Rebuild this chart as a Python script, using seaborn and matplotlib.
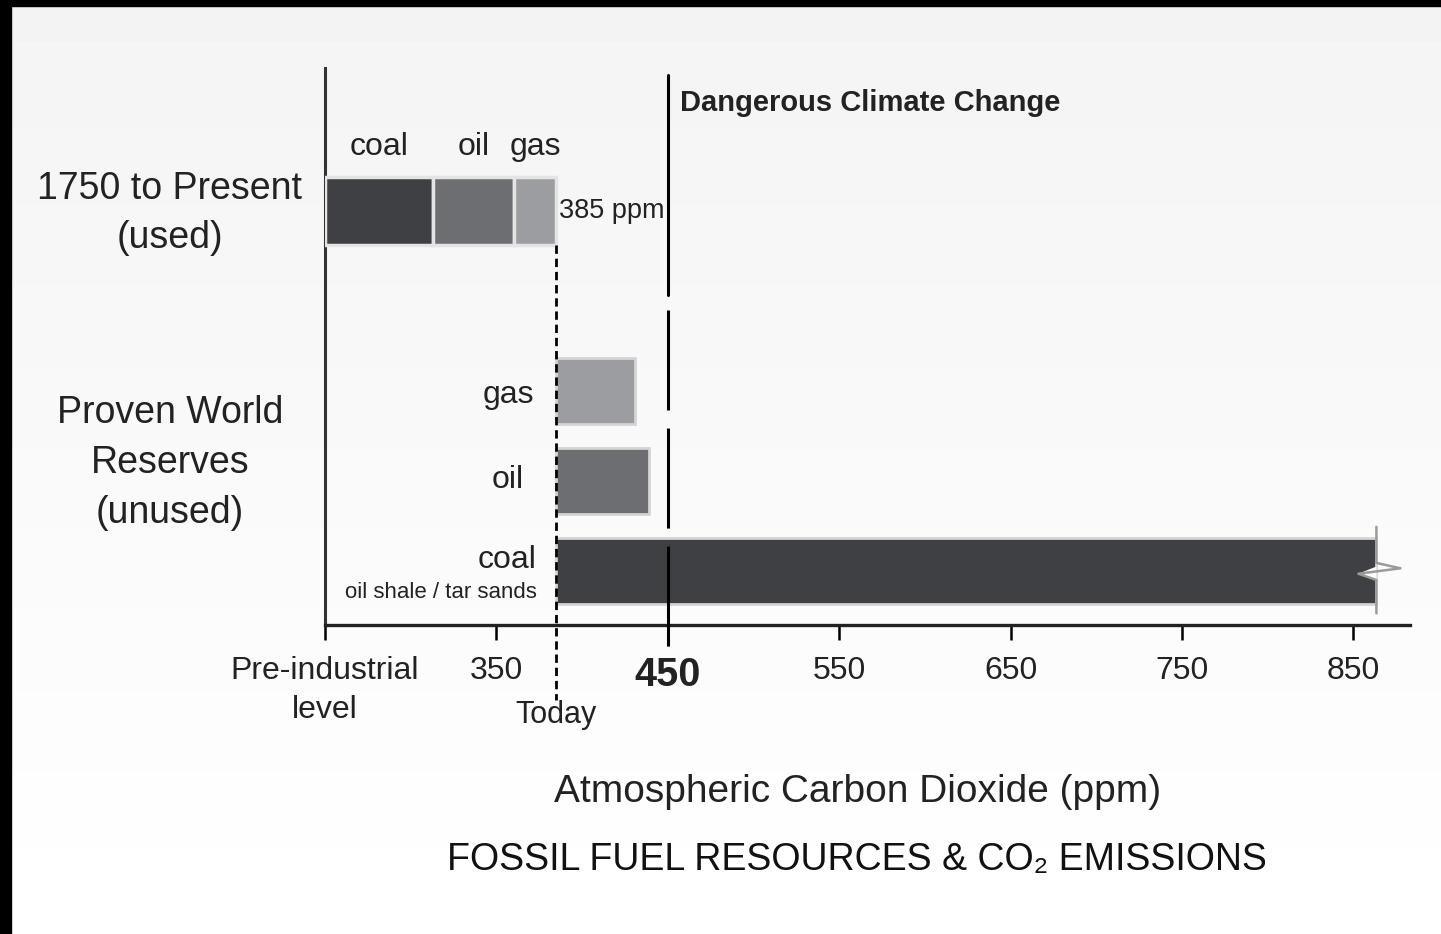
import numpy as np
import matplotlib
matplotlib.use("Agg")
import matplotlib.pyplot as plt
from matplotlib.patches import Rectangle, Polygon
import seaborn as sns

# Data (ppm on the chart's axis; pre-industrial sits at the left edge)
preindustrial = 250
today = 385
danger = 450

used_fuels = ["coal", "oil", "gas"]
used_end = [313, 360, 385]

reserve_fuels = ["gas", "oil", "coal"]
reserve_end = [431, 439, 863]

tick_values = [250, 350, 450, 550, 650, 750, 850]
tick_labels = ["Pre-industrial\nlevel", "350", "450", "550", "650", "750", "850"]

fuel_colors = {"coal": "#3f4043", "oil": "#6d6e71", "gas": "#9c9da0"}

sns.set_theme(style="white")
plt.rcParams["font.family"] = ["Liberation Sans", "DejaVu Sans"]
plt.rcParams["lines.scale_dashes"] = False

fig = plt.figure(figsize=(14.41, 9.34), dpi=100)
fig.patch.set_facecolor("white")

# soft grey-to-white background
bg = fig.add_axes([0, 0, 1, 1], zorder=-10)
grad = np.linspace(0.955, 1.0, 200).reshape(-1, 1)
bg.imshow(grad, aspect="auto", cmap="gray", vmin=0, vmax=1, extent=[0, 1, 0, 1])
bg.axis("off")

# black frame on the left and top edges
fig.patches.append(Rectangle((0, 0), 11 / 1441, 1, transform=fig.transFigure, color="black", zorder=20))
fig.patches.append(Rectangle((0, 1 - 6 / 934), 1, 6 / 934, transform=fig.transFigure, color="black", zorder=20))

ax = fig.add_axes([325 / 1441, 1 - 625 / 934, 1085 / 1441, 557 / 934])
ax.set_facecolor("none")

# used row (stacked)
lefts = [preindustrial] + used_end[:-1]
for fuel, left, end in zip(used_fuels, lefts, used_end):
    ax.barh(0, end - left, left=left, height=0.75, color=fuel_colors[fuel],
            edgecolor="#e4e4e4", linewidth=2.5, zorder=3)
    ax.text((left + end) / 2, -0.71, fuel, ha="center", va="center", fontsize=23, color="#222")

# reserves rows
res_pos = [2, 3, 4]
for fuel, pos, end in zip(reserve_fuels, res_pos, reserve_end):
    ax.barh(pos, end - today, left=today, height=0.74, color=fuel_colors[fuel],
            edgecolor="#d4d4d4", linewidth=2, zorder=3)

ax.text(372, 2.04, "gas", ha="right", va="center", fontsize=23, color="#222")
ax.text(366, 2.99, "oil", ha="right", va="center", fontsize=23, color="#222")
ax.text(373.5, 3.88, "coal", ha="right", va="center", fontsize=23, color="#222")
ax.text(373.5, 4.24, "oil shale / tar sands", ha="right", va="center", fontsize=16, color="#222")

# break mark at the end of the coal bar
notch = Polygon([(863.4, 3.95), (852.9, 4.03), (863.4, 4.1)], closed=True,
                facecolor="white", edgecolor="none", zorder=5)
ax.add_patch(notch)
ax.plot([863.4, 863.4, 877.4, 852.9, 863.4, 863.4], [3.51, 3.91, 3.97, 4.03, 4.1, 4.47],
        color="#9a9a9a", lw=1.8, zorder=6, clip_on=False)

# today (dashed) and dangerous threshold lines
ax.plot([today, today], [0.38, 5.43], color="black", lw=2.0, ls=(0, (6, 3.5)),
        zorder=4, clip_on=False)
ax.plot([danger, danger], [-1.51, 0.93], color="black", lw=2.2, zorder=4, clip_on=False)
ax.plot([danger, danger], [1.1, 4.88], color="black", lw=2.2, ls=(0, (72, 13)),
        zorder=4, clip_on=False)

ax.text(457, -1.2, "Dangerous Climate Change", ha="left", va="center",
        fontsize=21, fontweight="bold", color="#222")
ax.text(386.5, 0.0, "385 ppm", ha="left", va="center", fontsize=19.5, color="#222")

# row labels on the left
ax.text(159.5, 0.03, "1750 to Present\n(used)", ha="center", va="center",
        fontsize=27, linespacing=1.45, color="#222", clip_on=False)
ax.text(159.5, 2.8, "Proven World\nReserves\n(unused)", ha="center", va="center",
        fontsize=27, linespacing=1.5, color="#222", clip_on=False)

ax.set_xlim(preindustrial, 883)
ax.set_ylim(4.6, -1.59)
ax.set_yticks([])
ax.set_xticks(tick_values)
ax.set_xticklabels(tick_labels, fontsize=23, color="#222", linespacing=1.4)
for lbl in ax.get_xticklabels():
    if lbl.get_text() == "450":
        lbl.set_fontsize(28.5)
        lbl.set_fontweight("bold")
ax.tick_params(axis="x", direction="out", length=11, width=1.8, color="black", pad=11, bottom=True)
ax.text(today, 5.6, "Today", ha="center", va="center", fontsize=22, color="#222", clip_on=False)

for side in ["top", "right"]:
    ax.spines[side].set_visible(False)
ax.spines["left"].set_color("#333")
ax.spines["left"].set_linewidth(2.2)
ax.spines["bottom"].set_color("#222")
ax.spines["bottom"].set_linewidth(2.4)

fig.text(858 / 1441, 1 - 792 / 934, "Atmospheric Carbon Dioxide (ppm)", ha="center", va="center",
         fontsize=28, color="#222")
fig.text(857 / 1441, 1 - 860 / 934, "FOSSIL FUEL RESOURCES & CO\u2082 EMISSIONS", ha="center",
         va="center", fontsize=27, color="#111")

fig.savefig("out.png", dpi=100, facecolor=fig.get_facecolor())
